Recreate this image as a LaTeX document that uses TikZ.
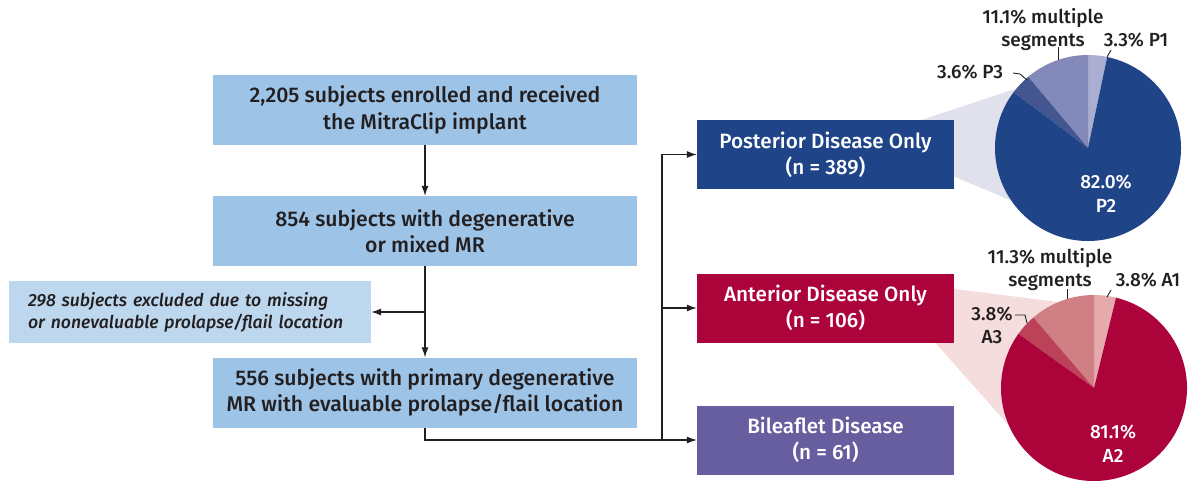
\documentclass[tikz,border=0pt]{standalone}
\usepackage{fontspec}
\setmainfont{Fira Sans Medium}[ItalicFont={Fira Sans Medium Italic}]
\usetikzlibrary{arrows.meta}
\definecolor{boxblue}{HTML}{9DC3E6}
\definecolor{exclblue}{HTML}{BDD7EE}
\definecolor{postblue}{HTML}{1F4488}
\definecolor{antred}{HTML}{AD033B}
\definecolor{bipurple}{HTML}{665E9F}
\definecolor{txtgray}{HTML}{231F20}
\definecolor{pone}{HTML}{ABAED0}
\definecolor{pmulti}{HTML}{8389B8}
\definecolor{pthree}{HTML}{445690}
\definecolor{aone}{HTML}{E4AAAC}
\definecolor{amulti}{HTML}{D08084}
\definecolor{athree}{HTML}{BC4259}
\definecolor{pfunnel}{HTML}{E1E1EE}
\definecolor{afunnel}{HTML}{F5DDDD}
\tikzset{
  flowbox/.style={fill=boxblue, minimum width=424pt, minimum height=70pt, inner sep=0pt,
    align=center, text=txtgray, font=\fontsize{21.2}{26.5}\selectfont},
  exclbox/.style={fill=exclblue, minimum height=62pt, inner xsep=19pt, inner ysep=0pt,
    text width=324pt, align=left, text=txtgray, font=\fontsize{17.6}{22}\selectfont\itshape},
  groupbox/.style={minimum width=257pt, minimum height=69pt, inner sep=0pt,
    align=center, text=white, font=\fontsize{20.7}{26}\selectfont},
  pielabel/.style={align=center, text=txtgray, inner sep=0pt, font=\fontsize{19}{23}\selectfont},
  inlabel/.style={align=center, text=white, inner sep=0pt, font=\fontsize{19}{24}\selectfont},
  leader/.style={draw=txtgray, line width=0.9pt},
  flow/.style={draw=txtgray, line width=1.1pt, -{Latex[length=10pt,width=7pt]}}
}
\begin{document}
\begin{tikzpicture}[x=1pt,y=1pt]
\useasboundingbox (0,0) rectangle (1190,-482);

% funnels behind the group boxes
\fill[pfunnel] (880,-133.5) -- (1015,-89) -- (1010,-200) -- (880,-145.5) -- cycle;
\fill[afunnel] (900,-282) -- (1058,-302) -- (1010,-427) -- (900,-303) -- cycle;

% flow chart
\node[flowbox] (enrolled) at (425,-110) {2,205 subjects enrolled and received\\the MitraClip implant};
\node[flowbox] (degen) at (425,-231) {854 subjects with degenerative\\or mixed MR};
\node[flowbox] (primary) at (425,-392.5) {556 subjects with primary degenerative\\MR with evaluable prolapse/flail location};
\node[exclbox] (excluded) at (190,-312) {298 subjects excluded due to missing\\or nonevaluable prolapse/flail location};

\node[groupbox, fill=postblue] (post) at (825.5,-154.5) {Posterior Disease Only\\(n = 389)};
\node[groupbox, fill=antred] (ant) at (825.5,-308) {Anterior Disease Only\\(n = 106)};
\node[groupbox, fill=bipurple] (bi) at (825.5,-440) {Bileaflet Disease\\(n = 61)};

\coordinate (split) at (662,-440);
\draw[flow] (enrolled) -- (degen);
\draw[flow] (degen) -- (primary);
\draw[flow] (degen.south |- excluded.east) -- (excluded.east);
\draw[flow] (primary.south) |- (bi.west);
\draw[flow] (split) |- (post.west);
\draw[flow] (split |- ant.west) -- (ant.west);

% posterior pie
\coordinate (pc) at (1088,-148);
\foreach \a/\b/\c in {78.1/90/pone, 90/130/pmulti, 130/143/pthree, 143/438.1/postblue}
  \fill[\c] (pc) -- ++(\a:93) arc (\a:\b:93) -- cycle;
\node[inlabel] (p2lbl) at (1106,-194) {82.0\%\\P2};
\node[pielabel] (pmultilbl) at (1043,-29) {11.1\% multiple\\segments};
\node[pielabel] (p1lbl) at (1136,-40) {3.3\% P1};
\node[pielabel] (p3lbl) at (970,-72) {3.6\% P3};
\draw[leader] (1058,-47) -- (1058,-60);
\draw[leader] (1111,-50) -- (1107,-57);
\draw[leader] (1013,-73) -- (1020,-74) -- (1027,-80);

% anterior pie
\coordinate (ac) at (1094,-388);
\foreach \a/\b/\c in {76.3/90/aone, 90/130.7/amulti, 130.7/144.4/athree, 144.4/436.3/antred}
  \fill[\c] (ac) -- ++(\a:93) arc (\a:\b:93) -- cycle;
\node[inlabel] (a2lbl) at (1113,-444) {81.1\%\\A2};
\node[pielabel] (amultilbl) at (1050,-269) {11.3\% multiple\\segments};
\node[pielabel] (a1lbl) at (1148,-280) {3.8\% A1};
\node[pielabel] (a3lbl) at (992,-325) {3.8\%\\A3};
\draw[leader] (1067,-289) -- (1067,-299);
\draw[leader] (1111,-290) -- (1107,-297);
\draw[leader] (1015,-315) -- (1025,-315) -- (1027,-323);
\end{tikzpicture}
\end{document}
